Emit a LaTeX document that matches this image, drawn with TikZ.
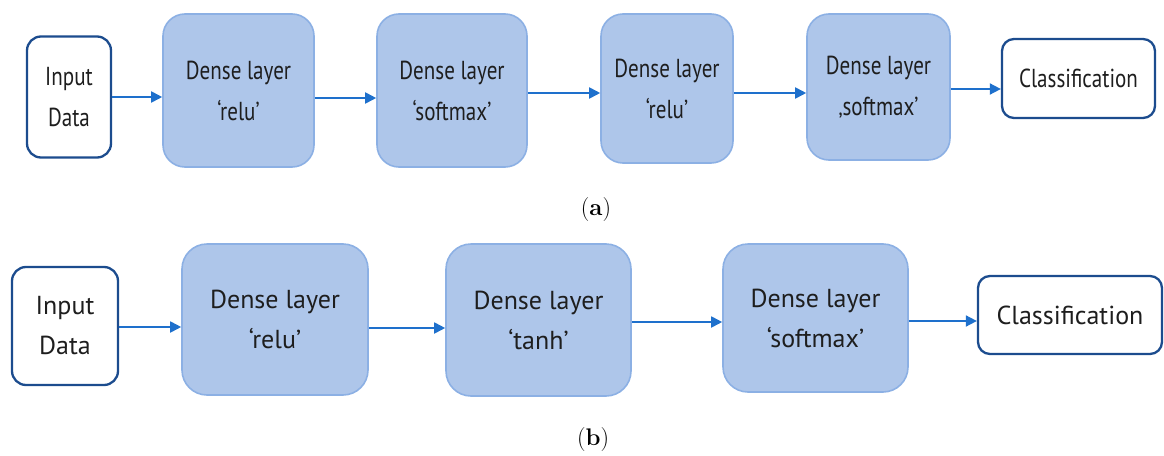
\documentclass[tikz,border=0pt]{standalone}
\usepackage{fontspec}
\setsansfont{PT Sans}
\newfontfamily\condfont{PT Sans}[FakeStretch=0.81]
\usetikzlibrary{arrows.meta,calc}
\definecolor{densefill}{RGB}{174,198,234}
\definecolor{denseborder}{RGB}{140,176,228}
\definecolor{iodark}{RGB}{28,76,142}
\definecolor{arrowblue}{RGB}{30,112,204}
\definecolor{txt}{RGB}{30,30,30}
\tikzset{
  dense/.style={rounded corners=22pt, fill=densefill, draw=denseborder, line width=1.6pt, inner sep=0pt, align=center, text=txt},
  iobox/.style={rounded corners=14pt, fill=white, draw=iodark, line width=2.3pt, inner sep=0pt, align=center, text=txt},
  rowa/.style={font=\condfont\fontsize{26}{41}\selectfont},
  rowb/.style={font=\sffamily\fontsize{26}{40}\selectfont},
  arr/.style={draw=arrowblue, line width=1.8pt, -{Triangle[length=11pt,width=11pt]}},
  capstyle/.style={font=\rmfamily\fontsize{24}{28}\selectfont, text=black, inner sep=0pt}
}
\begin{document}
\begin{tikzpicture}[x=1pt,y=-1pt]
\useasboundingbox (0,0) rectangle (1164,455);
% row (a)
\node[iobox,rowa,minimum width=84pt,minimum height=121pt] (in1) at (69,97) {Input\\Data};
\node[dense,rowa,minimum width=151pt,minimum height=153pt] (d1a) at (238.5,90.5) {Dense layer\\‘relu’};
\node[dense,rowa,minimum width=150pt,minimum height=153pt] (d2a) at (452,90.5) {Dense layer\\‘softmax’};
\node[dense,rowa,minimum width=132pt,minimum height=149pt] (d3a) at (667,88.5) {Dense layer\\‘relu’};
\node[dense,rowa,minimum width=143pt,minimum height=146pt] (d4a) at (878.5,87) {Dense layer\\‚softmax’};
\node[iobox,rowa,rounded corners=12pt,minimum width=153pt,minimum height=79pt] (cla) at (1078.5,78.5) {Classification};
\draw[arr] (in1.east) -- (in1.east -| d1a.west);
\draw[arr] ([yshift=-7.5pt]d1a.east) -- ([yshift=-7.5pt]d1a.east -| d2a.west);
\draw[arr] ([yshift=-2.5pt]d2a.east) -- ([yshift=-2.5pt]d2a.east -| d3a.west);
\draw[arr] ([yshift=-4.5pt]d3a.east) -- ([yshift=-4.5pt]d3a.east -| d4a.west);
\draw[arr] ([yshift=-2pt]d4a.east) -- ([yshift=-2pt]d4a.east -| cla.west);
\node[capstyle] (capa) at (596,210) {(\textbf{a})};
% row (b)
\node[iobox,rowb,minimum width=106pt,minimum height=118pt] (in2) at (65,326) {Input\\Data};
\node[dense,rowb,rounded corners=25pt,minimum width=186pt,minimum height=151pt] (d1b) at (275,319.5) {Dense layer\\‘relu’};
\node[dense,rowb,rounded corners=25pt,minimum width=185pt,minimum height=152pt] (d2b) at (538.5,320) {Dense layer\\‘tanh’};
\node[dense,rowb,rounded corners=25pt,minimum width=185pt,minimum height=148pt] (d3b) at (815.5,318) {Dense layer\\‘softmax’};
\node[iobox,rowb,rounded corners=12pt,minimum width=184pt,minimum height=78pt] (clb) at (1070,315) {Classification};
\draw[arr] ([yshift=-1pt]in2.east) -- ([yshift=-1pt]in2.east -| d1b.west);
\draw[arr] ([yshift=-8.5pt]d1b.east) -- ([yshift=-8.5pt]d1b.east -| d2b.west);
\draw[arr] ([yshift=-2pt]d2b.east) -- ([yshift=-2pt]d2b.east -| d3b.west);
\draw[arr] ([yshift=-3pt]d3b.east) -- ([yshift=-3pt]d3b.east -| clb.west);
\node[capstyle] (capb) at (593,440) {(\textbf{b})};
\end{tikzpicture}
\end{document}
